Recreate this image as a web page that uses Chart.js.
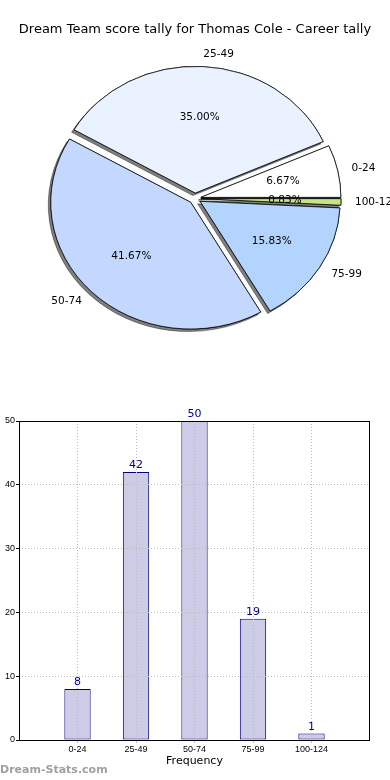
<!DOCTYPE html>
<html>
<head>
<meta charset="utf-8">
<script src="https://cdn.jsdelivr.net/npm/chart.js@4/dist/chart.umd.min.js"></script>
<style>
  html, body { margin: 0; padding: 0; background: #fff; }
  body { width: 390px; height: 780px; position: relative; overflow: hidden; }
  canvas { display: block; }
  #pieWrap { position: absolute; left: 0; top: 0; width: 390px; height: 390px; }
  #barWrap { position: absolute; left: 0; top: 400px; width: 390px; height: 380px; }
  #mark { position: absolute; left: 0; top: 763px; font: bold 11px "DejaVu Sans", sans-serif; color: #a0a0a0; white-space: nowrap; }
</style>
</head>
<body>
<div id="pieWrap"><canvas id="pie" width="390" height="390"></canvas></div>
<div id="barWrap"><canvas id="bar" width="390" height="380"></canvas></div>
<div id="mark">Dream-Stats.com</div>
<script>
// ---- data ----
const chartTitle = 'Dream Team score tally for Thomas Cole - Career tally';
const categories = ['0-24', '25-49', '50-74', '75-99', '100-124'];
const counts = [8, 42, 50, 19, 1];
const sliceColors = ['#ffffff', '#eaf1ff', '#c4d8ff', '#b3d4ff', '#c6e486'];
const yTickValues = [0, 10, 20, 30, 40, 50];
const xAxisTitle = 'Frequency';

// ---- pie (Chart.js draws clockwise, so feed reversed order starting at 3 o'clock) ----
const pieLabels = categories.slice().reverse();
const pieValues = counts.slice().reverse();
const pieColors = sliceColors.slice().reverse();
const total = counts.reduce((a, b) => a + b, 0);

const EXPLODE = 6;
const SQUASH = 0.905;
const LABEL_FONT = '10.5px "DejaVu Sans", sans-serif';

function wrapArcs(chart) {
  const meta = chart.getDatasetMeta(0);
  meta.data.forEach(arc => {
    if (arc._wrapped) return;
    const orig = arc.draw;
    arc.draw = function (ctx, area) {
      const mid = (this.startAngle + this.endAngle) / 2;
      ctx.save();
      ctx.translate(Math.cos(mid) * EXPLODE, Math.sin(mid) * EXPLODE);
      orig.call(this, ctx, area);
      ctx.restore();
    };
    arc._wrapped = true;
  });
}

const piePlugin = {
  id: 'pieStyle',
  afterUpdate(chart) { wrapArcs(chart); },
  beforeDatasetsDraw(chart) {
    const ctx = chart.ctx;
    const meta = chart.getDatasetMeta(0);
    const a0 = meta.data[0];
    ctx.save();
    ctx.translate(a0.x, a0.y);
    ctx.scale(1, SQUASH);
    ctx.translate(-a0.x, -a0.y);
    // shadow pass, drawn underneath every wedge
    ctx.save();
    ctx.shadowColor = 'rgba(0,0,0,0.5)';
    ctx.shadowOffsetX = -2.5;
    ctx.shadowOffsetY = 2.5;
    ctx.shadowBlur = 0;
    meta.data.forEach(a => a.draw(ctx, chart.chartArea));
    ctx.restore();
  },
  afterDatasetsDraw(chart) {
    const ctx = chart.ctx;
    ctx.restore();
    const meta = chart.getDatasetMeta(0);
    ctx.save();
    ctx.font = LABEL_FONT;
    ctx.fillStyle = '#000';
    ctx.textBaseline = 'middle';
    meta.data.forEach((a, i) => {
      const mid = (a.startAngle + a.endAngle) / 2;
      const c = Math.cos(mid), s = Math.sin(mid);
      const R = a.outerRadius;
      const px = a.x + c * (EXPLODE + 0.6 * R);
      const py = a.y + s * (EXPLODE + 0.6 * R) * SQUASH;
      ctx.textAlign = 'center';
      ctx.fillText((pieValues[i] / total * 100).toFixed(2) + '%', px, py);
      const lx = a.x + c * (EXPLODE + 1.1 * R);
      const ly = a.y + s * (EXPLODE + 1.1 * R) * SQUASH;
      ctx.textAlign = c >= 0 ? 'left' : 'right';
      ctx.fillText(pieLabels[i], lx, ly);
    });
    ctx.restore();
  }
};

new Chart(document.getElementById('pie'), {
  type: 'pie',
  data: {
    labels: pieLabels,
    datasets: [{
      data: pieValues,
      backgroundColor: pieColors,
      borderColor: '#000',
      borderWidth: 0.8,
      radius: 140,
      clip: false
    }]
  },
  options: {
    responsive: false,
    animation: false,
    rotation: 90,
    layout: { padding: { top: 0, bottom: 30.8, left: 0, right: 0 } },
    plugins: {
      legend: { display: false },
      tooltip: { enabled: false },
      title: {
        display: true,
        text: chartTitle,
        color: '#000',
        font: { family: '"DejaVu Sans", sans-serif', size: 13, weight: 'normal', lineHeight: 1.2 },
        padding: { top: 22.2, bottom: 0 }
      }
    }
  },
  plugins: [piePlugin]
});

// ---- bar chart ----
const TICK_FONT = { family: '"Liberation Sans Narrow", "Liberation Sans", sans-serif', size: 9 };
const GRID_GRAY = '#bdbdbd';
const barPlugin = {
  id: 'barExtras',
  afterDraw(chart) {
    const ctx = chart.ctx;
    const a = chart.chartArea;
    const L = Math.round(a.left) + 0.5, R = Math.round(a.right) - 0.5;
    const T = Math.round(a.top) + 0.5, B = Math.round(a.bottom) + 0.5;
    ctx.save();
    ctx.strokeStyle = '#000';
    ctx.lineWidth = 1;
    ctx.strokeRect(L, T, R - L, B - T);
    const meta = chart.getDatasetMeta(0);
    ctx.font = '11px "DejaVu Sans", sans-serif';
    ctx.fillStyle = '#000099';
    ctx.textAlign = 'center';
    ctx.textBaseline = 'bottom';
    meta.data.forEach((bar, i) => {
      ctx.fillText(String(counts[i]), bar.x, bar.y - 1);
    });
    ctx.restore();
  }
};

new Chart(document.getElementById('bar'), {
  type: 'bar',
  data: {
    datasets: [{
      data: counts.map((v, i) => ({ x: i, y: v })),
      backgroundColor: '#ccccE6',
      borderColor: '#00007a',
      borderWidth: 1,
      borderSkipped: false,
      categoryPercentage: 1,
      barPercentage: 0.45
    }]
  },
  options: {
    responsive: false,
    animation: false,
    layout: { padding: { top: 21, right: 20, left: 0, bottom: 0 } },
    plugins: { legend: { display: false }, tooltip: { enabled: false }, title: { display: false } },
    scales: {
      x: {
        type: 'linear',
        position: 'bottom',
        min: -1,
        max: 5,
        offset: false,
        afterBuildTicks(scale) {
          scale.ticks = [-1, 0, 1, 2, 3, 4, 5].map(v => ({ value: v }));
        },
        afterFit(scale) { scale.height = 40; },
        ticks: {
          callback: (v) => (categories[v] !== undefined ? categories[v] : ''),
          font: TICK_FONT,
          color: '#000',
          padding: 1,
          maxRotation: 0,
          autoSkip: false
        },
        grid: {
          offset: false,
          z: 1,
          color: (c) => (c.tick && c.tick.value >= 0 && c.tick.value <= 4 ? GRID_GRAY : 'rgba(0,0,0,0)'),
          tickColor: (c) => (c.tick && c.tick.value >= 0 && c.tick.value <= 4 ? GRID_GRAY : 'rgba(0,0,0,0)'),
          tickLength: 3,
          lineWidth: 1
        },
        border: { display: false, dash: [1, 2] },
        title: {
          display: true,
          text: xAxisTitle,
          color: '#000',
          font: { family: '"DejaVu Sans", sans-serif', size: 11 },
          padding: { top: 4, bottom: 12 }
        }
      },
      y: {
        position: 'left',
        min: 0,
        max: 50,
        afterBuildTicks(scale) {
          scale.ticks = yTickValues.map(v => ({ value: v }));
        },
        afterFit(scale) { scale.width = 19; },
        ticks: { font: TICK_FONT, color: '#000', padding: 1 },
        grid: {
          z: 1,
          color: (c) => (c.tick && c.tick.value > 0 && c.tick.value < 50 ? GRID_GRAY : 'rgba(0,0,0,0)'),
          tickColor: '#000',
          tickLength: 3,
          lineWidth: 1
        },
        border: { display: false, dash: [1, 2] }
      }
    }
  },
  plugins: [barPlugin]
});
</script>
</body>
</html>
